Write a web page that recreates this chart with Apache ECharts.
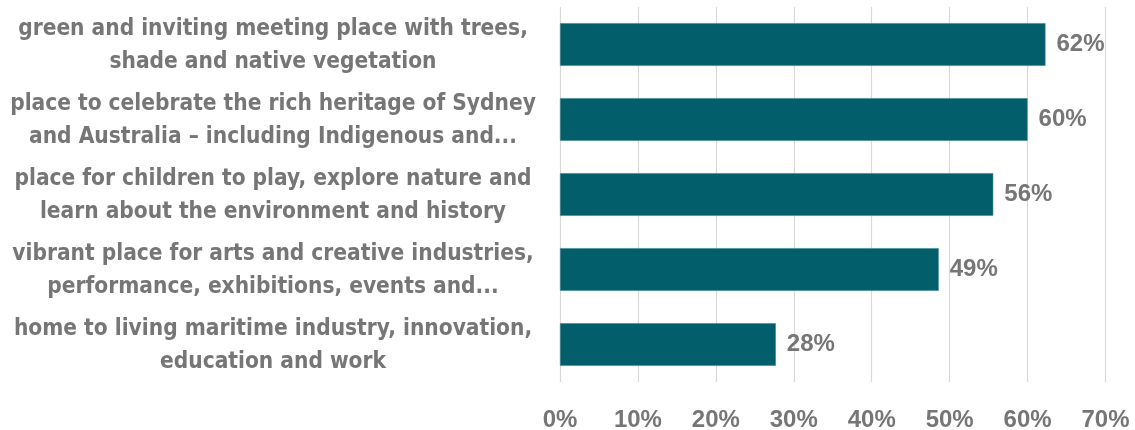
<!DOCTYPE html>
<html>
<head>
<meta charset="utf-8">
<script src="https://cdn.jsdelivr.net/npm/echarts@6/dist/echarts.min.js"></script>
<style>
html,body{margin:0;padding:0;background:#fff;}
#c{width:1135px;height:430px;}
</style>
</head>
<body>
<div id="c"></div>
<script>
const categories = [
  "green and inviting meeting place with trees,\nshade and native vegetation",
  "place to celebrate the rich heritage of Sydney\nand Australia \u2013 including Indigenous and...",
  "place for children to play, explore nature and\nlearn about the environment and history",
  "vibrant place for arts and creative industries,\nperformance, exhibitions, events and...",
  "home to living maritime industry, innovation,\neducation and work"
];
const values = [62.3, 60.0, 55.6, 48.6, 27.7];
const valueLabels = ["62%", "60%", "56%", "49%", "28%"];
const tickLabels = ["0%", "10%", "20%", "30%", "40%", "50%", "60%", "70%"];

const catFont = "'DejaVu Sans Condensed', sans-serif";
const numFont = "'Liberation Sans', Arial, sans-serif";
const txt = '#767676';

const chart = echarts.init(document.getElementById('c'), null, {renderer: 'canvas'});
chart.setOption({
  animation: false,
  grid: {left: 560, right: 29.5, top: 7, height: 375, containLabel: false, outerBoundsMode: 'none'},
  xAxis: {
    type: 'value', min: 0, max: 70, interval: 10,
    axisLine: {show: false}, axisTick: {show: false},
    splitLine: {show: true, lineStyle: {color: '#D9D9D9', width: 1.2}},
    axisLabel: {
      margin: 26, color: txt, fontFamily: numFont, fontWeight: 'bold', fontSize: 24,
      formatter: function (v) { return tickLabels[Math.round(v / 10)]; }
    }
  },
  yAxis: {
    type: 'category', inverse: true, data: categories,
    axisLine: {show: false}, axisTick: {show: false},
    axisLabel: {
      margin: 22, align: 'right',
      formatter: function (v) { return v.split('\n').map(function (l) { return '{a|' + l + '}'; }).join('\n'); },
      rich: {a: {width: 530, align: 'center', lineHeight: 33, padding: [2, 0, 0, 0], color: txt, fontFamily: catFont, fontWeight: 'bold', fontSize: 22.5}}
    }
  },
  series: [{
    type: 'bar', data: values, barWidth: '57%',
    itemStyle: {color: '#025E6A', borderColor: '#3F8791', borderWidth: 0.6},
    label: {
      show: true, position: 'right', distance: 11, color: txt,
      fontFamily: numFont, fontWeight: 'bold', fontSize: 24,
      formatter: function (p) { return valueLabels[p.dataIndex]; }
    }
  }]
});
</script>
</body>
</html>
